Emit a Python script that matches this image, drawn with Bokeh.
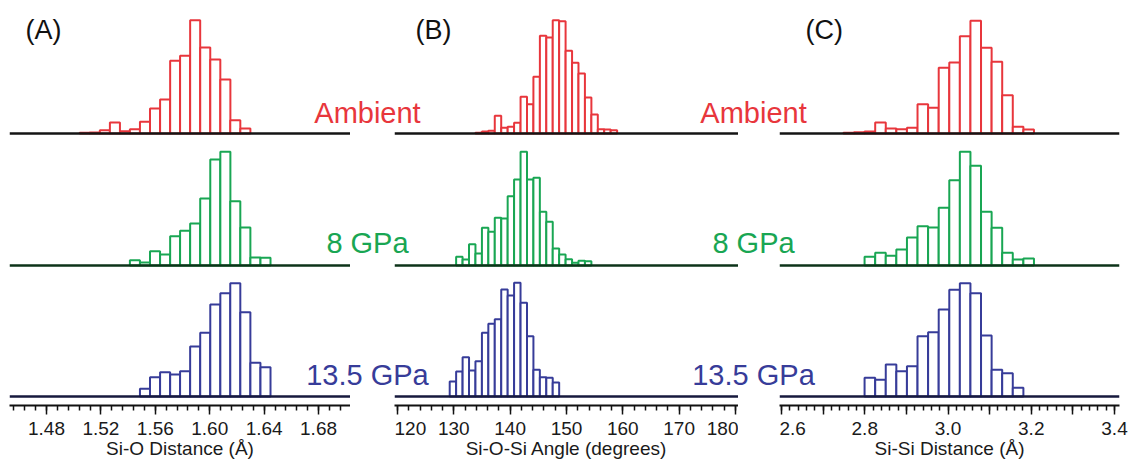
from bokeh.plotting import figure
from bokeh.layouts import row
from bokeh.models import ColumnDataSource, Range1d, FixedTicker, Label
from bokeh.embed import file_html
from bokeh.resources import INLINE

# ---------------- data ----------------
PRESSURES = ["Ambient", "8 GPa", "13.5 GPa"]

# Panel A: Si-O distance (Angstrom)
A_CENTERS = [1.5081, 1.5155, 1.5229, 1.5303, 1.5377, 1.5450, 1.5524, 1.5598, 1.5672,
             1.5746, 1.5819, 1.5893, 1.5967, 1.6041, 1.6115, 1.6188, 1.6262, 1.6336, 1.6410]
A_BIN = 0.00738
A_AMBIENT = [0.7, 1.0, 3.3, 11.0, 2.3, 4.3, 11.7, 25.0, 34.0, 72.7, 77.7, 113.3, 86.0, 74.0,
             54.0, 13.3, 5.0, 0, 0]
A_8GPA = [0, 0, 0, 0, 0, 5.3, 3.0, 14.3, 11.0, 29.3, 34.7, 42.0, 67.0, 106.0, 113.7, 64.3,
          38.0, 8.0, 7.7]
A_135GPA = [0, 0, 0, 0, 0, 0, 7.7, 19.3, 24.3, 22.0, 25.3, 50.0, 63.7, 92.0, 103.3, 113.3,
            84.3, 33.7, 29.3]
A_TICKS = [1.48, 1.52, 1.56, 1.60, 1.64, 1.68]
A_TICK_LABELS = ["1.48", "1.52", "1.56", "1.60", "1.64", "1.68"]
A_TITLE = "Si-O Distance (Å)"

# Panel B: Si-O-Si angle (degrees)
B_CENTERS = [129.84, 130.98, 132.13, 133.27, 134.41, 135.56, 136.70, 137.84, 138.99, 140.13,
             141.27, 142.42, 143.56, 144.70, 145.85, 146.99, 148.13, 149.27, 150.42, 151.56,
             152.70, 153.85, 154.99, 156.13, 157.27, 158.42]
B_BIN = 1.143
B_AMBIENT = [0, 0, 0, 0, 0.7, 2.0, 2.7, 17.7, 5.7, 6.7, 10.7, 36.7, 29.3, 56.7, 97.7, 96.0,
             113.3, 112.3, 82.7, 70.7, 60.0, 36.0, 19.0, 4.3, 4.0, 3.3]
B_8GPA = [0, 8.7, 6.0, 21.3, 12.0, 37.7, 33.7, 47.7, 47.0, 69.3, 86.0, 113.7, 86.0, 87.7,
          53.7, 43.7, 17.0, 11.0, 6.3, 2.7, 4.7, 4.3, 0, 0, 0, 0]
B_135GPA = [15.0, 25.0, 39.3, 26.0, 35.3, 63.7, 72.7, 77.3, 107.0, 101.0, 113.7, 93.7, 60.3,
            26.7, 19.3, 18.7, 14.0, 0, 0, 0, 0, 0, 0, 0, 0, 0]
B_TICKS = [120, 130, 140, 150, 160, 170, 180]
B_TICK_LABELS = ["120", "130", "140", "150", "160", "170", "180"]
B_TITLE = "Si-O-Si Angle (degrees)"

# Panel C: Si-Si distance (Angstrom)
C_CENTERS = [2.7615, 2.7869, 2.8123, 2.8378, 2.8632, 2.8886, 2.9141, 2.9395, 2.9649, 2.9904,
             3.0158, 3.0412, 3.0666, 3.0921, 3.1175, 3.1429, 3.1684, 3.1938]
C_BIN = 0.02543
C_AMBIENT = [0.7, 1.3, 2.0, 11.0, 5.0, 4.3, 5.7, 29.3, 25.7, 65.7, 71.0, 97.3, 112.7, 85.7,
             71.7, 38.3, 6.7, 4.0]
C_8GPA = [0, 0, 8.7, 12.7, 9.7, 16.0, 28.0, 39.3, 38.0, 57.7, 85.3, 113.7, 99.7, 53.7, 37.7,
          12.7, 6.0, 7.0]
C_135GPA = [0, 0, 18.7, 16.7, 32.0, 25.3, 30.3, 60.3, 64.3, 87.0, 106.7, 113.3, 103.3, 61.0,
            26.7, 23.3, 8.7, 0]
C_TICKS = [2.6, 2.8, 3.0, 3.2, 3.4]
C_TICK_LABELS = ["2.6", "2.8", "3.0", "3.2", "3.4"]
C_LONG_UNLABELED = [2.7, 2.9, 3.1, 3.3]
C_TITLE = "Si-Si Distance (Å)"

# ---------------- style / layout ----------------
COLORS = ["#E8363C", "#19A653", "#373C99"]
BASE_COLORS = ["#141414", "#0c3319", "#16193d"]
OFFSETS = [263, 131, 0]          # vertical stacking of the three histograms
LABEL_RAISE = [21, 23, 22]       # text centre above each baseline
FONT = "Liberation Sans"
FRAME_H = 405
Y_RANGE = (-9, 396)


def base_figure(xr, frame_w, border_l=0, border_r=0, with_axis=True):
    p = figure(frame_width=frame_w, frame_height=FRAME_H,
               x_range=Range1d(*xr), y_range=Range1d(*Y_RANGE),
               output_backend="svg", toolbar_location=None, y_axis_location=None,
               x_axis_location="below" if with_axis else None,
               min_border_left=border_l, min_border_right=border_r,
               min_border_top=0, min_border_bottom=0,
               background_fill_color=None, border_fill_color=None,
               outline_line_color=None)
    p.xgrid.visible = False
    p.ygrid.visible = False
    return p


def make_panel(xr, frame_w, centers, binw, series, ticks, labels, minor, title,
               letter, letter_x, border_l=0, border_r=0, long_unlabeled=()):
    p = base_figure(xr, frame_w, border_l, border_r)

    for heights, color, base, off in zip(series, COLORS, BASE_COLORS, OFFSETS):
        keep = [(c, h) for c, h in zip(centers, heights) if h > 0]
        src = ColumnDataSource(dict(
            left=[c - binw / 2 for c, h in keep],
            right=[c + binw / 2 for c, h in keep],
            bottom=[off] * len(keep),
            top=[off + h for c, h in keep],
        ))
        p.quad(left="left", right="right", bottom="bottom", top="top", source=src,
               fill_color="white", line_color=color, line_width=2)
        p.segment(x0=[xr[0]], x1=[xr[1]], y0=[off], y1=[off],
                  line_color=base, line_width=2.5)

    p.add_layout(Label(x=letter_x, y=367, text=letter, text_align="center",
                       text_baseline="middle", text_color="#111111",
                       text_font=FONT, text_font_size="27px"))

    ax = p.xaxis[0]
    ax.ticker = FixedTicker(ticks=list(ticks) + list(long_unlabeled), minor_ticks=minor)
    overrides = {t: s for t, s in zip(ticks, labels)}
    for t in long_unlabeled:
        overrides[t] = ""
    ax.major_label_overrides = overrides
    ax.axis_label = title
    ax.axis_line_width = 2
    ax.axis_line_color = "#111111"
    ax.major_tick_in = 0
    ax.major_tick_out = 9
    ax.minor_tick_in = 0
    ax.minor_tick_out = 5
    ax.major_tick_line_width = 1.5
    ax.minor_tick_line_width = 1.5
    ax.major_tick_line_color = "#111111"
    ax.minor_tick_line_color = "#111111"
    ax.major_label_text_font = FONT
    ax.major_label_text_font_size = "19px"
    ax.major_label_text_color = "#1a1a1a"
    ax.major_label_standoff = 7
    ax.axis_label_text_font = FONT
    ax.axis_label_text_font_size = "19px"
    ax.axis_label_text_font_style = "normal"
    ax.axis_label_text_color = "#1a1a1a"
    ax.axis_label_standoff = 0
    return p


def make_labels(xr, frame_w, x):
    """Transparent strip (in the units of the panel on its left) holding the
    pressure labels that sit between two panels."""
    p = base_figure(xr, frame_w, with_axis=False)
    for name, color, off, raise_ in zip(PRESSURES, COLORS, OFFSETS, LABEL_RAISE):
        p.add_layout(Label(x=x, y=off + raise_, text=name, text_align="center",
                           text_baseline="middle", text_color=color,
                           text_font=FONT, text_font_size="29px"))
    return p


A_MINOR = [round(1.456 + 0.008 * i, 3) for i in range(31)]
B_MINOR = [120 + 2 * i for i in range(31)]
C_MINOR = [round(2.6 + 0.02 * i, 2) for i in range(41)]

# panel A: frame 9..350 px
pA = make_panel((1.4528, 1.7035), 341, A_CENTERS, A_BIN, [A_AMBIENT, A_8GPA, A_135GPA],
                A_TICKS, A_TICK_LABELS, A_MINOR, A_TITLE, "(A)", 1.4778, border_l=9)
# labels after A: strip 290..432 px, A units
lA = make_labels((1.6594, 1.7638), 142, 1.716)
# panel B: frame 394..738 px
pB = make_panel((119.467, 180.54), 344, B_CENTERS, B_BIN, [B_AMBIENT, B_8GPA, B_135GPA],
                B_TICKS, B_TICK_LABELS, B_MINOR, B_TITLE, "(B)", 126.4)
# labels after B: strip 676..818 px, B units
lB = make_labels((169.53, 194.74), 142, 183.2)
# panel C: frame 779..1119 px
pC = make_panel((2.5952, 3.412), 340, C_CENTERS, C_BIN, [C_AMBIENT, C_8GPA, C_135GPA],
                C_TICKS, C_TICK_LABELS, C_MINOR, C_TITLE, "(C)", 2.7027, border_r=9,
                long_unlabeled=C_LONG_UNLABELED)

lA.margin = (0, 0, 0, -60)
pB.margin = (0, 0, 0, -38)
lB.margin = (0, 0, 0, -62)
pC.margin = (0, 0, 0, -39)

layout = row(pA, lA, pB, lB, pC)
open("out.html", "w").write(file_html(layout, INLINE, title="Si-O histograms"))
